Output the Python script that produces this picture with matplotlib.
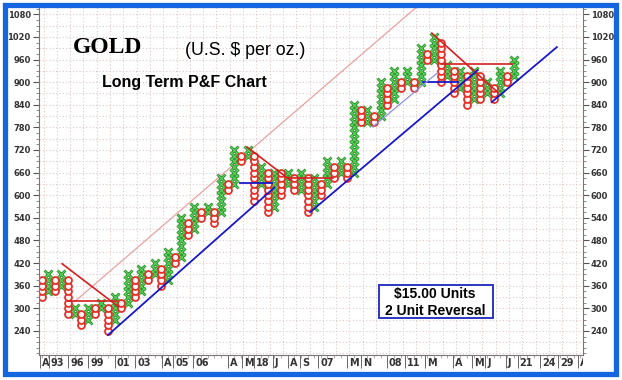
import numpy as np
import matplotlib.pyplot as plt
from matplotlib.patches import Rectangle
from matplotlib.transforms import ScaledTranslation, Bbox, TransformedBbox

# point & figure columns, $15 box, alternating O / X
box_size = 15
col_type = ['O', 'X'] * 36
col_low = [330, 345, 345, 360, 285, 285, 255, 270, 285, 300,
           240, 270, 300, 315, 330, 345, 375, 390, 360, 375,
           420, 435, 495, 510, 540, 555, 525, 555, 615, 630,
           690, 705, 585, 630, 555, 570, 600, 630, 615, 615,
           555, 570, 600, 630, 645, 660, 645, 660, 795, 795,
           795, 810, 840, 855, 885, 900, 885, 900, 960, 960,
           900, 915, 870, 885, 840, 855, 855, 870, 855, 870,
           900, 915]
col_high = [375, 390, 375, 390, 375, 300, 285, 300, 300, 315,
            300, 330, 315, 390, 375, 405, 390, 420, 405, 450,
            435, 540, 525, 570, 555, 570, 555, 645, 630, 720,
            705, 720, 705, 675, 660, 660, 660, 660, 645, 660,
            645, 645, 630, 690, 675, 690, 675, 840, 825, 825,
            810, 900, 885, 930, 900, 930, 900, 990, 975, 1020,
            1005, 945, 930, 930, 915, 930, 915, 900, 885, 930,
            915, 960]

# date markers along the bottom (column index where the month/year starts)
tick_pos = [-0.3, 1.1, 4.0, 7.0, 11.0, 14.1, 18.1, 19.8, 22.8, 28.0, 30.2, 32.0, 34.8,
            37.1, 38.9, 41.6, 45.9, 48.0, 51.9, 54.7, 57.7, 61.9, 64.7, 66.7, 69.8,
            71.6, 75.0, 77.7, 80.7]
tick_lab = ['A', '93', '96', '99', '01', '03', 'A', '05', '06', 'A', 'M', '18', 'J',
            'A', 'S', '07', 'M', 'N', '08', '11', 'M', 'A', 'M', 'J', 'J',
            '21', '24', '29', 'A']

# trend lines (column index, price)
red_lines = [[(3.1, 418), (11.5, 305)], [(4.0, 318), (11.4, 318)],
             [(30.9, 728), (37.4, 640)], [(37.1, 645), (43.8, 645)],
             [(58.7, 1030), (68.6, 873)], [(60.2, 947), (70.8, 947)]]
blue_lines = [[(10.0, 229), (35.0, 620)], [(29.8, 633), (34.7, 633)],
              [(40.4, 555), (65.6, 932)], [(57.4, 900), (62.6, 900)],
              [(67.7, 847), (77.5, 993)]]
light_blue_line = [(49.8, 781), (59.5, 924)]
pink_line = [(5.0, 318), (57.5, 1116)]

fig = plt.figure(figsize=(6.22, 3.8), dpi=100)
ax = fig.add_axes([39 / 622, 25 / 380, 543.5 / 622, 349 / 380])
ax.set_xlim(-0.38, 81.35)
ax.set_ylim(176, 1102)

# grid
for gy in np.arange(180, 1110, 30):
    ax.axhline(gy, color='#e2c8c8', ls=(0, (1, 2)), lw=0.8, zorder=0)
for gx in np.arange(0.3, 81.5, 2):
    ax.axvline(gx, color='#e2c8c8', ls=(0, (1, 2)), lw=0.8, zorder=0)

xs_x, ys_x, xs_o, ys_o = [], [], [], []
for i, (t, lo, hi) in enumerate(zip(col_type, col_low, col_high)):
    ys = np.arange(lo, hi + 1, box_size)
    if t == 'X':
        xs_x += [i] * len(ys)
        ys_x += list(ys)
    else:
        xs_o += [i] * len(ys)
        ys_o += list(ys)

ax.plot(xs_x, ys_x, ls='none', marker='x', ms=6, mew=2.0, color='#2b8a2b', zorder=2)
ax.plot(xs_x, ys_x, ls='none', marker='x', ms=5.6, mew=0.8, color='#5cd65c', zorder=2)
ax.plot(xs_o, ys_o, ls='none', marker='o', ms=5, mew=1.3, mec='#e3302a', mfc='#fff4f4', zorder=2)

for seg in red_lines:
    ax.plot([seg[0][0], seg[1][0]], [seg[0][1], seg[1][1]], color='#d42020', lw=1.2, zorder=3)
for seg in blue_lines:
    ax.plot([seg[0][0], seg[1][0]], [seg[0][1], seg[1][1]], color='#1818c8', lw=1.3, zorder=3)
ax.plot([light_blue_line[0][0], light_blue_line[1][0]], [light_blue_line[0][1], light_blue_line[1][1]],
        color='#9090e0', lw=0.9, zorder=3)
ax.plot([pink_line[0][0], pink_line[1][0]], [pink_line[0][1], pink_line[1][1]],
        color='#eaa0a0', lw=0.9, zorder=1)

# axes styling
for s in ['left', 'right', 'bottom']:
    ax.spines[s].set_color('#777777')
ax.spines['top'].set_visible(False)
ax.set_yticks(np.arange(240, 1081, 60))
ax.set_yticks(np.arange(180, 1101, 15), minor=True)
ax.tick_params(axis='y', which='major', left=True, right=True, labelleft=True, labelright=True,
               length=4, width=0.8, color='#555555', labelsize=6, pad=2)
ax.tick_params(axis='y', which='minor', left=True, right=True, length=2, width=0.6, color='#777777')
for lab in ax.get_yticklabels():
    lab.set_fontweight('bold')
    lab.set_color('#333333')

ax.set_xticks(tick_pos, tick_lab)
ax.set_xticks(np.arange(0, 82, 1), minor=True)
ax.tick_params(axis='x', which='major', length=9, width=0.7, color='#666666',
               labelsize=7, pad=-6.5)
ax.tick_params(axis='x', which='minor', length=2, width=0.5, color='#888888')
clip = TransformedBbox(Bbox([[0, -1], [1, 2]]), ax.transAxes)
for lab in ax.get_xticklabels():
    lab.set_horizontalalignment('left')
    lab.set_fontweight('bold')
    lab.set_color('#333333')
    lab.set_transform(lab.get_transform() + ScaledTranslation(1.5 / 72, 0, fig.dpi_scale_trans))
    lab.set_clip_box(clip)
    lab.set_clip_on(True)

# titles
fig.text(73 / 622, 1 - 53 / 380, 'GOLD', family='Liberation Serif', weight='bold', size=17, va='baseline')
fig.text(185 / 622, 1 - 55 / 380, '(U.S. $ per oz.)', family='Liberation Sans', size=12.8, va='baseline')
fig.text(102 / 622, 1 - 87 / 380, 'Long Term P&F Chart', family='Liberation Sans', weight='bold',
         size=11.5, va='baseline')

# units box
fig.add_artist(Rectangle((379 / 622, 1 - 318 / 380), 114 / 622, 33 / 380, transform=fig.transFigure,
                         fc='white', ec='#2a36c0', lw=1.4, zorder=5))
fig.text(435 / 622, 1 - 298 / 380, '$15.00 Units', family='Liberation Sans', weight='bold', size=10,
         ha='center', va='baseline', zorder=6)
fig.text(435 / 622, 1 - 315 / 380, '2 Unit Reversal', family='Liberation Sans', weight='bold', size=10,
         ha='center', va='baseline', zorder=6)

# blue frame
fig.add_artist(Rectangle((5 / 622, 1 - 373.5 / 380), 610.5 / 622, 369 / 380, transform=fig.transFigure,
                         fill=False, ec='#1565e0', lw=3.8, zorder=10))

fig.savefig('out.png', dpi=100)
